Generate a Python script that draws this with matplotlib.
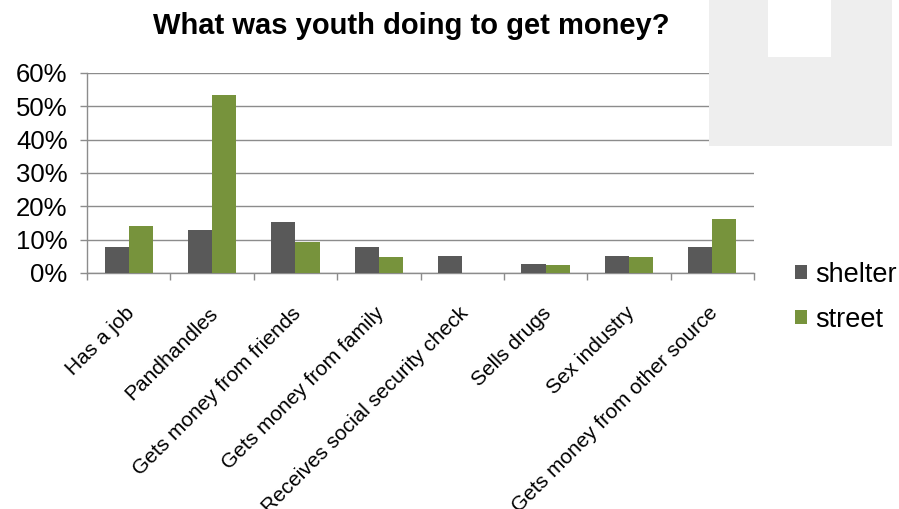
import matplotlib
matplotlib.use("Agg")
import matplotlib.pyplot as plt
from matplotlib.patches import Rectangle
from matplotlib.ticker import PercentFormatter, FixedLocator
from matplotlib.transforms import ScaledTranslation
import numpy as np

plt.rcParams['font.family'] = ['Liberation Sans', 'DejaVu Sans']

categories = ["Has a job", "Pandhandles", "Gets money from friends",
              "Gets money from family", "Receives social security check",
              "Sells drugs", "Sex industry", "Gets money from other source"]
shelter = [7.7, 12.8, 15.4, 7.7, 5.1, 2.6, 5.1, 7.7]
street = [14.0, 53.5, 9.3, 4.7, 0.0, 2.3, 4.7, 16.3]
series_names = ["shelter", "street"]
yticks = [0, 10, 20, 30, 40, 50, 60]

fig = plt.figure(figsize=(8.99, 5.09), dpi=100)

# decorative backdrop in the upper right corner
fig.patches.append(Rectangle((0.7887, 0.7132), 0.2036, 0.30, transform=fig.transFigure,
                             facecolor="#EEEEEE", edgecolor="none", zorder=0))
fig.patches.append(Rectangle((0.8543, 0.888), 0.0701, 0.12, transform=fig.transFigure,
                             facecolor="white", edgecolor="none", zorder=0))

ax = fig.add_axes([0.0968, 0.4637, 0.7419, 0.3929])
ax.set_facecolor("none")

x = np.arange(len(categories))
w = 0.29
ax.bar(x - w / 2, shelter, w, color="#595959", label=series_names[0], zorder=3)
ax.bar(x + w / 2, street, w, color="#77933C", label=series_names[1], zorder=3)

ax.set_xlim(-0.5, len(categories) - 0.5)
ax.set_ylim(0, 60)
ax.set_yticks(yticks)
ax.yaxis.set_major_formatter(PercentFormatter(decimals=0))
ax.grid(axis="y", color="#8C8C8C", linewidth=1.0, zorder=1)

for s in ["top", "right"]:
    ax.spines[s].set_visible(False)
for s in ["left", "bottom"]:
    ax.spines[s].set_color("#8C8C8C")
    ax.spines[s].set_linewidth(1.0)

ax.set_xticks(x)
ax.set_xticklabels(categories, rotation=45, ha="right", rotation_mode="anchor", fontsize=15)
ax.tick_params(axis="x", which="major", length=0, pad=22)
shift = ScaledTranslation(-4 / 100, 0, fig.dpi_scale_trans)
for lbl in ax.get_xticklabels():
    lbl.set_transform(lbl.get_transform() + shift)
ax.xaxis.set_minor_locator(FixedLocator(np.arange(len(categories) + 1) - 0.5))
ax.tick_params(axis="x", which="minor", length=5, color="#8C8C8C", width=1)
ax.tick_params(axis="y", length=5, color="#8C8C8C", width=1, labelsize=18.5, pad=9)

fig.text(411 / 899, 1 - 26 / 509, "What was youth doing to get money?", fontsize=21,
         fontweight="bold", ha="center", va="center")

ax.legend(loc="upper left", bbox_to_anchor=(1.045, 0.11), frameon=False, fontsize=19.5,
          handlelength=0.45, handleheight=0.45, handletextpad=0.3, labelspacing=0.7,
          borderaxespad=0)

fig.savefig("out.png", dpi=100)
